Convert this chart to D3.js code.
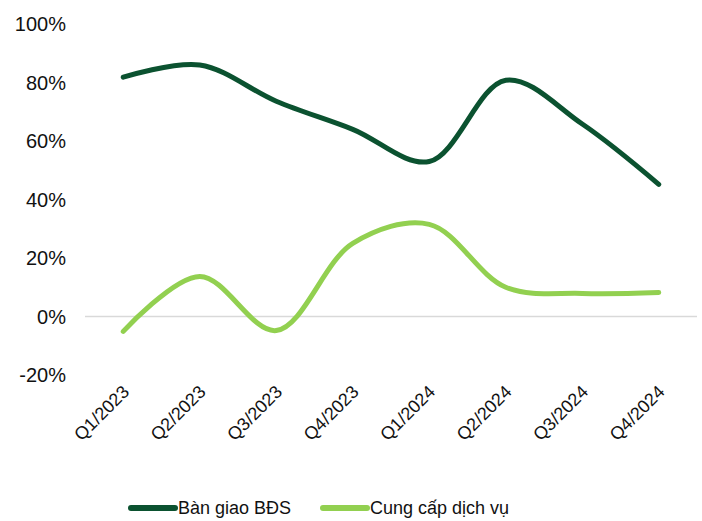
<!DOCTYPE html>
<html>
<head>
<meta charset="utf-8">
<script src="https://d3js.org/d3.v7.min.js"></script>
<style>
  body { margin: 0; background: #fff; }
  text { font-family: "Liberation Sans", Arial, sans-serif; fill: #111; }
</style>
</head>
<body>
<div id="chart"></div>
<script>
// Data
const quarters = ["Q1/2023", "Q2/2023", "Q3/2023", "Q4/2023", "Q1/2024", "Q2/2024", "Q3/2024", "Q4/2024"];
const banGiao = [81.8, 86, 73.6, 64, 53, 80.8, 65.8, 45.2];
const cungCap = [-5.1, 13.7, -4.8, 25, 31.5, 10, 7.9, 8.2];
const yTicks = [-20, 0, 20, 40, 60, 80, 100];

const width = 702, height = 521;
const plotLeft = 85, plotRight = 697, plotTop = 24, plotBottom = 375;

const svg = d3.select("#chart").append("svg")
    .attr("width", width)
    .attr("height", height);

const x = d3.scaleBand().domain(quarters).range([plotLeft, plotRight]);
const y = d3.scaleLinear().domain([-20, 100]).range([plotBottom, plotTop]);

// y labels
svg.append("g").selectAll("text")
    .data(yTicks)
    .join("text")
    .attr("x", 66)
    .attr("y", d => y(d))
    .attr("dy", "0.35em")
    .attr("text-anchor", "end")
    .style("font-size", "20px")
    .text(d => d + "%");

// zero line
svg.append("line")
    .attr("x1", plotLeft).attr("x2", plotRight)
    .attr("y1", y(0)).attr("y2", y(0))
    .attr("stroke", "#d9d9d9")
    .attr("stroke-width", 1.5);

// x labels
svg.append("g").selectAll("text")
    .data(quarters)
    .join("text")
    .attr("transform", d => `translate(${x(d) + x.bandwidth() / 2 + 7},${plotBottom + 18}) rotate(-45)`)
    .attr("text-anchor", "end")
    .style("font-size", "18px")
    .text(d => d);

const line = d3.line()
    .x((d, i) => x(quarters[i]) + x.bandwidth() / 2)
    .y(d => y(d))
    .curve(d3.curveCatmullRom.alpha(0.5));

const series = [
    { name: "Bàn giao BĐS", values: banGiao, color: "#0b5230" },
    { name: "Cung cấp dịch vụ", values: cungCap, color: "#92d050" }
];

svg.append("g").selectAll("path")
    .data(series)
    .join("path")
    .attr("d", d => line(d.values))
    .attr("fill", "none")
    .attr("stroke", d => d.color)
    .attr("stroke-width", 5)
    .attr("stroke-linecap", "round");

// legend
const legendX = [131, 323];
const legend = svg.append("g").selectAll("g")
    .data(series)
    .join("g")
    .attr("transform", (d, i) => `translate(${legendX[i]},508)`);

legend.append("line")
    .attr("x1", 0).attr("x2", 44)
    .attr("stroke", d => d.color)
    .attr("stroke-width", 6)
    .attr("stroke-linecap", "round");

legend.append("text")
    .attr("x", 47)
    .attr("dy", "0.35em")
    .style("font-size", "18px")
    .text(d => d.name);
</script>
</body>
</html>
